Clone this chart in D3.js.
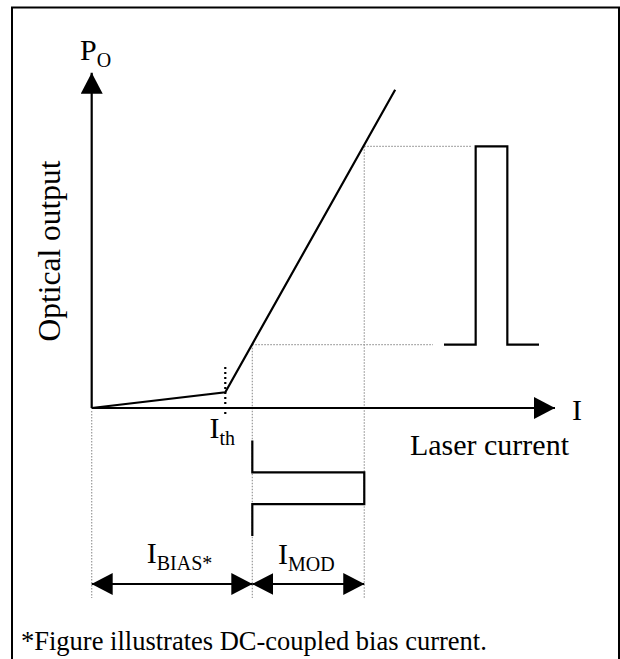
<!DOCTYPE html>
<html>
<head>
<meta charset="utf-8">
<script src="https://cdn.jsdelivr.net/npm/d3@7"></script>
<style>
  body { margin: 0; background: #fff; }
  text { font-family: "Liberation Serif", "Times New Roman", serif; fill: #000; }
</style>
</head>
<body>
<svg id="chart"></svg>
<script>
// L-I curve of the laser (current in mA, optical power in mW, arbitrary)
const liCurrent = [0, 17.3, 39.3];
const liPower = [0, 0.47, 9.5];

// operating points
const thresholdCurrent = 17.3;
const biasCurrent = 20.8;
const modCurrent = 14.5; // added on top of bias
const powerLow = 1.89;
const powerHigh = 7.81;

// pulse shapes (time in bit periods)
const pulseTime = [0, 1, 1, 2, 2, 3];
const pulseLevel = [0, 0, 1, 1, 0, 0];

// text
const yAxisTitle = "Optical output";
const xAxisTitle = "Laser current";
const footnote = "*Figure illustrates DC-coupled bias current.";

const width = 620;
const height = 659;

const svg = d3.select("#chart").attr("width", width).attr("height", height);

// arrow markers
const defs = svg.append("defs");
defs.append("marker")
  .attr("id", "head")
  .attr("viewBox", "0 0 21 22")
  .attr("refX", 21).attr("refY", 11)
  .attr("markerWidth", 21).attr("markerHeight", 22)
  .attr("markerUnits", "userSpaceOnUse")
  .attr("orient", "auto-start-reverse")
  .append("path").attr("d", "M0,0 L21,11 L0,22 Z").attr("fill", "#000");

// frame
svg.append("rect")
  .attr("x", 12).attr("y", 7.5)
  .attr("width", 607).attr("height", 720)
  .attr("fill", "none").attr("stroke", "#000").attr("stroke-width", 2);

// scales
const x = d3.scaleLinear().domain([0, 60]).range([91.7, 555]);
const y = d3.scaleLinear().domain([0, 10]).range([408, 73]);
const tRight = d3.scaleLinear().domain([0, 3]).range([444, 539]);   // optical pulse time
const tDown = d3.scaleLinear().domain([0, 3]).range([440.5, 536]);  // current pulse time
const yArrows = 584;

const grey = "#999";

// grey dotted guide lines
const guides = svg.append("g")
  .attr("stroke", grey).attr("stroke-width", 1.2).attr("stroke-dasharray", "1.5,1.5").attr("fill", "none");
guides.append("line")
  .attr("x1", x(0)).attr("x2", x(0)).attr("y1", y(0) + 3).attr("y2", 598);
guides.append("line")
  .attr("x1", x(biasCurrent)).attr("x2", x(biasCurrent)).attr("y1", y(powerLow)).attr("y2", 598);
guides.append("line")
  .attr("x1", x(biasCurrent + modCurrent)).attr("x2", x(biasCurrent + modCurrent)).attr("y1", y(powerHigh)).attr("y2", 598);
guides.append("line")
  .attr("x1", x(biasCurrent)).attr("x2", 433).attr("y1", y(powerLow)).attr("y2", y(powerLow));
guides.append("line")
  .attr("x1", x(biasCurrent + modCurrent)).attr("x2", 471).attr("y1", y(powerHigh)).attr("y2", y(powerHigh));

// threshold marker (black dotted)
svg.append("line")
  .attr("x1", x(thresholdCurrent)).attr("x2", x(thresholdCurrent))
  .attr("y1", y(0) + 6).attr("y2", 364)
  .attr("stroke", "#000").attr("stroke-width", 2.2).attr("stroke-dasharray", "2,3");

// axes
svg.append("line")
  .attr("x1", x(0)).attr("y1", y(0)).attr("x2", x(0)).attr("y2", 72.7)
  .attr("stroke", "#000").attr("stroke-width", 2.2).attr("marker-end", "url(#head)");
svg.append("line")
  .attr("x1", x(0)).attr("y1", y(0)).attr("x2", x(60)).attr("y2", y(0))
  .attr("stroke", "#000").attr("stroke-width", 2.2).attr("marker-end", "url(#head)");

// L-I curve
const liLine = d3.line().x((d, i) => x(liCurrent[i])).y((d, i) => y(liPower[i]));
svg.append("path")
  .attr("d", liLine(liCurrent))
  .attr("fill", "none").attr("stroke", "#000").attr("stroke-width", 2.2)
  .attr("stroke-linejoin", "miter");

// optical output pulse
const optLine = d3.line()
  .x((d, i) => tRight(pulseTime[i]))
  .y((d, i) => y(pulseLevel[i] ? powerHigh : powerLow));
svg.append("path")
  .attr("d", optLine(pulseTime))
  .attr("fill", "none").attr("stroke", "#000").attr("stroke-width", 2.2);

// current pulse (time running downward)
const curLine = d3.line()
  .x((d, i) => x(pulseLevel[i] ? biasCurrent + modCurrent : biasCurrent))
  .y((d, i) => tDown(pulseTime[i]));
svg.append("path")
  .attr("d", curLine(pulseTime))
  .attr("fill", "none").attr("stroke", "#000").attr("stroke-width", 2.2);

// double arrows for I_BIAS and I_MOD
const spans = [[0, biasCurrent], [biasCurrent, biasCurrent + modCurrent]];
svg.selectAll("line.span")
  .data(spans)
  .enter()
  .append("line")
  .attr("class", "span")
  .attr("x1", (d) => x(d[0])).attr("x2", (d) => x(d[1]))
  .attr("y1", yArrows).attr("y2", yArrows)
  .attr("stroke", "#000").attr("stroke-width", 2.2)
  .attr("marker-start", "url(#head)").attr("marker-end", "url(#head)");

// labels
function subLabel(px, py, main, sub) {
  const t = svg.append("text").attr("x", px).attr("y", py).style("font-size", "30px");
  t.append("tspan").text(main);
  t.append("tspan").attr("dy", 7).style("font-size", "20px").text(sub);
  return t;
}
subLabel(80, 60, "P", "O");
subLabel(209.5, 438.3, "I", "th");
subLabel(146.7, 562.7, "I", "BIAS*");
subLabel(278, 564, "I", "MOD");

svg.append("text").attr("x", 572).attr("y", 420).style("font-size", "30px").text("I");
svg.append("text")
  .attr("x", 569).attr("y", 455)
  .attr("text-anchor", "end")
  .style("font-size", "30px")
  .text(xAxisTitle);
svg.append("text")
  .attr("transform", "translate(60,251) rotate(-90)")
  .attr("text-anchor", "middle")
  .style("font-size", "31.5px")
  .text(yAxisTitle);

svg.append("text")
  .attr("x", 21).attr("y", 650)
  .style("font-size", "26.5px")
  .text(footnote);
</script>
</body>
</html>
